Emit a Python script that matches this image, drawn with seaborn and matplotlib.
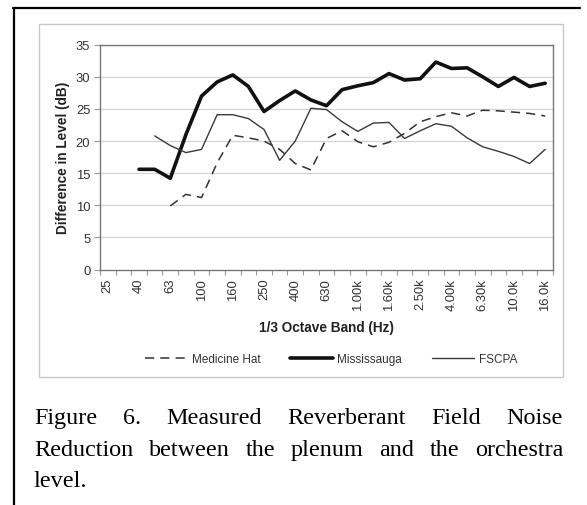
import numpy as np
import pandas as pd
import matplotlib
matplotlib.use("Agg")
import matplotlib.pyplot as plt
import seaborn as sns
from matplotlib.lines import Line2D
from matplotlib.patches import Rectangle

bands = ["25", "31.5", "40", "50", "63", "80", "100", "125", "160", "200", "250", "315",
         "400", "500", "630", "800", "1.00k", "1.25k", "1.60k", "2.00k", "2.50k", "3.15k",
         "4.00k", "5.00k", "6.30k", "8.00k", "10.0k", "12.5k", "16.0k"]
nan = np.nan
medicine_hat = [nan, nan, nan, nan, 9.9, 11.7, 11.2, 16.6, 20.9, 20.5, 20.0, 18.7, 16.5, 15.5,
                20.4, 21.6, 19.9, 19.1, 19.8, 21.2, 23.0, 23.8, 24.4, 23.9, 24.8, 24.7, 24.5,
                24.3, 23.9]
mississauga = [nan, nan, 15.6, 15.6, 14.2, 21.0, 27.0, 29.2, 30.3, 28.5, 24.6, 26.3, 27.8, 26.4,
               25.5, 28.0, 28.6, 29.1, 30.5, 29.5, 29.7, 32.3, 31.3, 31.4, 30.0, 28.5, 29.9,
               28.5, 29.0]
fscpa = [nan, nan, nan, 20.8, 19.3, 18.2, 18.7, 24.1, 24.1, 23.5, 21.8, 17.0, 20.0, 25.1, 24.9,
         23.0, 21.5, 22.8, 22.9, 20.4, 21.6, 22.7, 22.3, 20.5, 19.1, 18.4, 17.6, 16.5, 18.7]
yticks = [0, 5, 10, 15, 20, 25, 30, 35]
caption_lines = ["Figure 6. Measured Reverberant Field Noise",
                 "Reduction between the plenum and the orchestra",
                 "level."]

sns.set_style("white")
plt.rcParams["font.family"] = ["Liberation Sans", "DejaVu Sans"]

W, H = 587, 506
fig = plt.figure(figsize=(W / 100, H / 100), dpi=100)
fig.patch.set_facecolor("white")

def fx(px):
    return px / W

def fy(py):
    return 1 - py / H

# outer page frame (top and left lines)
fig.add_artist(Line2D([fx(13), fx(580)], [fy(9), fy(9)], color="black", lw=1.6))
fig.add_artist(Line2D([fx(14), fx(14)], [fy(9), 0], color="black", lw=1.6))

# chart area box
fig.add_artist(Rectangle((fx(39), fy(378)), fx(563) - fx(39), fy(25) - fy(378),
                         fill=False, edgecolor="#c8c8c8", lw=1.0))

ax = fig.add_axes([fx(100), fy(270.5), fx(553) - fx(100), fy(45.7) - fy(270.5)])

x = np.arange(len(bands))
df = pd.DataFrame({"x": x, "Medicine Hat": medicine_hat,
                   "Mississauga": mississauga, "FSCPA": fscpa})

for y in yticks[1:]:
    ax.axhline(y, color="#d4d4d4", lw=0.9, zorder=0)

sns.lineplot(data=df, x="x", y="Medicine Hat", ax=ax, color="#333333", lw=1.1,
             dashes=False, linestyle=(0, (6, 4)), label="Medicine Hat", legend=False)
sns.lineplot(data=df, x="x", y="Mississauga", ax=ax, color="#111111", lw=2.6,
             label="Mississauga", legend=False)
sns.lineplot(data=df, x="x", y="FSCPA", ax=ax, color="#3a3a3a", lw=1.0,
             label="FSCPA", legend=False)

ax.set_xlim(-0.5, len(bands) - 0.5)
ax.set_ylim(0, 35)
ax.set_yticks(yticks)
ax.set_yticklabels([str(v) for v in yticks], fontsize=9.4, color="#333333")
ax.set_xticks(x[::2])
ax.set_xticklabels(bands[::2], rotation=90, fontsize=9.4, color="#333333")
ax.set_xticks(np.arange(len(bands) + 1) - 0.5, minor=True)
ax.tick_params(axis="x", which="major", length=0, pad=6)
ax.tick_params(axis="x", which="minor", length=3.5, color="#999999", width=0.8, bottom=True)
ax.tick_params(axis="y", which="major", length=4, color="#999999", width=0.8, left=True, pad=3)
for s in ax.spines.values():
    s.set_color("#777777")
    s.set_linewidth(1.0)
ax.set_xlabel("1/3 Octave Band (Hz)", fontsize=9.8, fontweight="bold", color="#222222")
ax.set_ylabel("Difference in Level (dB)", fontsize=9.8, fontweight="bold", color="#222222")
ax.xaxis.set_label_coords(0.5, (fy(328) - fy(270.5)) / (fy(45.7) - fy(270.5)))
ax.xaxis.label.set_va("center")
ax.yaxis.set_label_coords((fx(63) - fx(100)) / (fx(553) - fx(100)), 0.5)
ax.yaxis.label.set_va("center")

handles, labels = ax.get_legend_handles_labels()
leg = fig.legend(handles, labels, loc="center", bbox_to_anchor=(fx(331), fy(360)), ncol=3,
                 frameon=False, fontsize=8.5, handlelength=3.6, handletextpad=0.4,
                 columnspacing=2.5, labelcolor="#333333")

# justified caption
renderer = fig.canvas.get_renderer()
left_px, right_px = 34, 563
baselines = [424, 456, 487]
for li, (line, base) in enumerate(zip(caption_lines, baselines)):
    words = line.split(" ")
    arts = [fig.text(0, fy(base), w, fontsize=17.4, family="Liberation Serif",
                     va="baseline", ha="left", color="black") for w in words]
    widths = [a.get_window_extent(renderer).width for a in arts]
    justify = li < len(caption_lines) - 1 and len(words) > 1
    if justify:
        gap = (right_px - left_px - sum(widths)) / (len(words) - 1)
    else:
        gap = 17.4 * 1.389 * 0.25
    cur = left_px
    for a, w in zip(arts, widths):
        a.set_x(fx(cur))
        cur += w + gap

fig.savefig("out.png", dpi=100)
